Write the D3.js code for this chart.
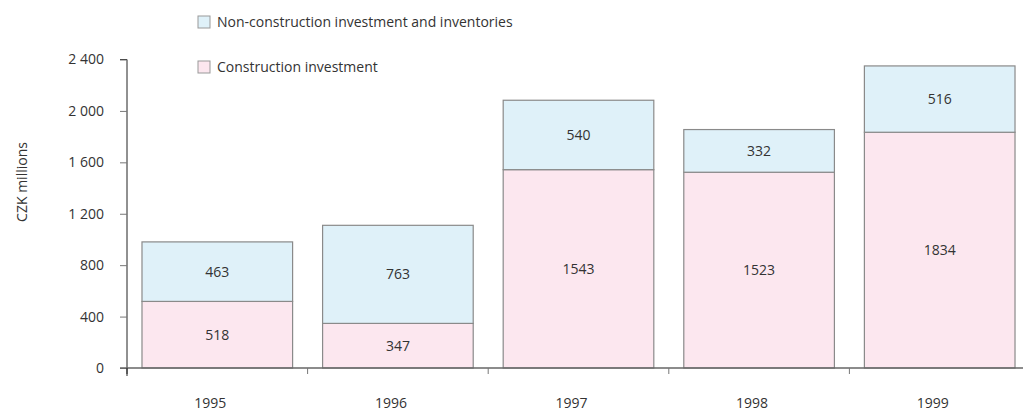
<!DOCTYPE html>
<html>
<head>
<meta charset="utf-8">
<script src="https://cdn.jsdelivr.net/npm/d3@7"></script>
<style>
  body { margin: 0; background: #fff; }
  text { font-family: "Open Sans", sans-serif; fill: #333; }
</style>
</head>
<body>
<div id="chart"></div>
<script>
// data
const years = ["1995", "1996", "1997", "1998", "1999"];
const construction = [518, 347, 1543, 1523, 1834];
const nonConstruction = [463, 763, 540, 332, 516];
const yTicks = [0, 400, 800, 1200, 1600, 2000, 2400];
const seriesNames = ["Non-construction investment and inventories", "Construction investment"];
const seriesColors = ["#dff1f9", "#fce7ef"];

const width = 1023, height = 411;
const fontSize = "14px";

const svg = d3.select("#chart")
  .append("svg")
  .attr("width", width)
  .attr("height", height);

const x = d3.scaleBand()
  .domain(years)
  .range([127, 1030])
  .paddingInner(0.166)
  .paddingOuter(0.083);

const y = d3.scaleLinear()
  .domain([0, 2400])
  .range([368, 59.5]);

// stack the two series
const rows = years.map((yr, i) => ({year: yr, c: construction[i], n: nonConstruction[i]}));
const stacked = d3.stack().keys(["c", "n"])(rows);
const fill = {c: seriesColors[1], n: seriesColors[0]};

// y axis
const yAxis = svg.append("g")
  .attr("transform", "translate(127,0)")
  .call(d3.axisLeft(y).tickValues(yTicks).tickSize(7).tickPadding(16)
    .tickFormat(d => d3.format(",")(d).replace(/,/g, " ")));
yAxis.select(".domain").attr("stroke", "#222").attr("d", "M-7,59.5H0V376");
yAxis.selectAll(".tick line").attr("stroke", "#777");
yAxis.selectAll(".tick text").style("font-size", fontSize).attr("fill", "#333")
  .style("font-family", "'Open Sans', sans-serif");

svg.append("text")
  .attr("transform", "translate(22,182) rotate(-90)")
  .attr("text-anchor", "middle")
  .attr("dy", "0.35em")
  .style("font-size", fontSize)
  .text("CZK millions");

// bars
const layers = svg.append("g").selectAll("g")
  .data(stacked)
  .enter().append("g")
  .attr("fill", d => fill[d.key]);

layers.selectAll("rect")
  .data(d => d)
  .enter().append("rect")
  .attr("x", d => x(d.data.year))
  .attr("y", d => y(d[1]))
  .attr("width", x.bandwidth())
  .attr("height", d => y(d[0]) - y(d[1]))
  .attr("stroke", "#8a8a8a")
  .attr("stroke-width", 1.2);

layers.selectAll("text")
  .data(d => d)
  .enter().append("text")
  .attr("x", d => x(d.data.year) + x.bandwidth() / 2)
  .attr("y", d => (y(d[0]) + y(d[1])) / 2)
  .attr("text-anchor", "middle")
  .attr("dy", "0.35em")
  .style("font-size", fontSize)
  .text(d => d[1] - d[0]);

// x axis
const xAxis = svg.append("g")
  .attr("transform", "translate(0,368)");
xAxis.append("line")
  .attr("x1", 120).attr("x2", 1030)
  .attr("stroke", "#666").attr("stroke-width", 1.5);
xAxis.selectAll(".xt")
  .data(years)
  .enter().append("line")
  .attr("x1", d => x(d) - x.step() * x.paddingInner() / 2)
  .attr("x2", d => x(d) - x.step() * x.paddingInner() / 2)
  .attr("y1", 0).attr("y2", 6)
  .attr("stroke", d => d === years[0] ? "#222" : "#777");
xAxis.selectAll(".xl")
  .data(years)
  .enter().append("text")
  .attr("x", d => x(d) + x.bandwidth() / 2 - 7)
  .attr("y", 35)
  .attr("text-anchor", "middle")
  .attr("dy", "0.35em")
  .style("font-size", fontSize)
  .text(d => d);

// legend
const legend = svg.append("g").selectAll("g")
  .data(seriesNames)
  .enter().append("g")
  .attr("transform", (d, i) => "translate(198," + (22 + i * 45) + ")");
legend.append("rect")
  .attr("x", 0).attr("y", -6)
  .attr("width", 12).attr("height", 12)
  .attr("fill", (d, i) => seriesColors[i])
  .attr("stroke", "#999");
legend.append("text")
  .attr("x", 19)
  .attr("dy", "0.35em")
  .style("font-size", fontSize)
  .text(d => d);
</script>
</body>
</html>
